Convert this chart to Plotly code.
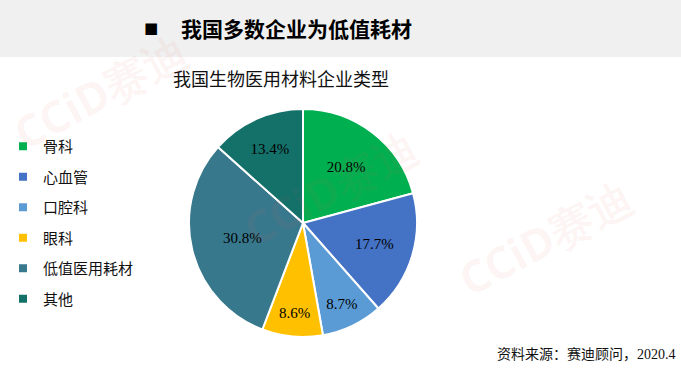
import plotly.graph_objects as go

categories = ["骨科", "心血管", "口腔科", "眼科", "低值医用耗材", "其他"]
values = [20.8, 17.7, 8.7, 8.6, 30.8, 13.4]
colors = ["#00b050", "#4472c4", "#5b9bd5", "#ffc000", "#38788c", "#13716a"]

header_title = "我国多数企业为低值耗材"
chart_title = "我国生物医用材料企业类型"
source_text = "资料来源：赛迪顾问，2020.4"
watermark = "CCiD赛迪"

W, H = 681, 369
cx, cy, r = 303, 223, 114

fig = go.Figure()

fig.add_trace(go.Pie(
    labels=categories, values=values, sort=False, direction="clockwise",
    rotation=0, marker=dict(colors=colors, line=dict(color="white", width=2)),
    texttemplate="%{value:.1f}%", textposition="inside", insidetextorientation="horizontal",
    textfont=dict(family="Liberation Serif", size=15, color="black"),
    showlegend=False, hoverinfo="label+value",
    domain=dict(x=[(cx - r) / W, (cx + r) / W], y=[(H - cy - r) / H, (H - cy + r) / H]),
))

for i, (c, col) in enumerate(zip(categories, colors)):
    fig.add_trace(go.Scatter(
        x=[None], y=[None], mode="markers", name=c, legendgroup=c,
        marker=dict(symbol="square", size=8, color=col), showlegend=True,
    ))

fig.update_layout(
    width=W, height=H, margin=dict(l=0, r=0, t=0, b=0, autoexpand=False),
    paper_bgcolor="white", plot_bgcolor="rgba(0,0,0,0)",
    xaxis=dict(visible=False), yaxis=dict(visible=False),
    font=dict(family="Noto Sans CJK SC"),
    legend=dict(x=3 / W, y=1 - 130 / H, xanchor="left", yanchor="top",
                font=dict(family="Noto Sans CJK SC", size=15, color="#111"),
                tracegroupgap=8, itemsizing="trace", bgcolor="rgba(0,0,0,0)"),
    shapes=[dict(type="rect", xref="paper", yref="paper", x0=0, x1=1,
                 y0=1 - 57 / H, y1=1, fillcolor="#f0f0f0", line=dict(width=0), layer="below")],
)

anns = [
    dict(text="■", x=142 / W, y=1 - 28 / H, xanchor="left", yanchor="middle",
         font=dict(family="DejaVu Sans", size=15, color="black")),
    dict(text="<b>" + header_title + "</b>", x=179 / W, y=1 - 28 / H, xanchor="left", yanchor="middle",
         font=dict(family="Noto Sans CJK SC", size=21, color="black")),
    dict(text=chart_title, x=171 / W, y=1 - 78 / H, xanchor="left", yanchor="middle",
         font=dict(family="Noto Sans CJK SC", size=18, color="#111")),
    dict(text=source_text, x=678 / W, y=1 - 354 / H, xanchor="right", yanchor="middle",
         font=dict(family="Liberation Serif, Noto Sans CJK SC", size=14, color="#111")),
]
for (wx, wy) in [(100, 92), (330, 188), (545, 238)]:
    anns.append(dict(text="<b>" + watermark + "</b>", x=wx / W, y=1 - wy / H, xanchor="center", yanchor="middle",
                     textangle=-28, font=dict(family="Noto Sans", size=44, color="rgba(225,90,90,0.06)")))
for a in anns:
    a.update(xref="paper", yref="paper", showarrow=False)
fig.update_layout(annotations=anns)

fig.write_html("out.html", config={"displayModeBar": False},
               post_script="document.body.style.margin='0';document.body.style.overflow='hidden';")
